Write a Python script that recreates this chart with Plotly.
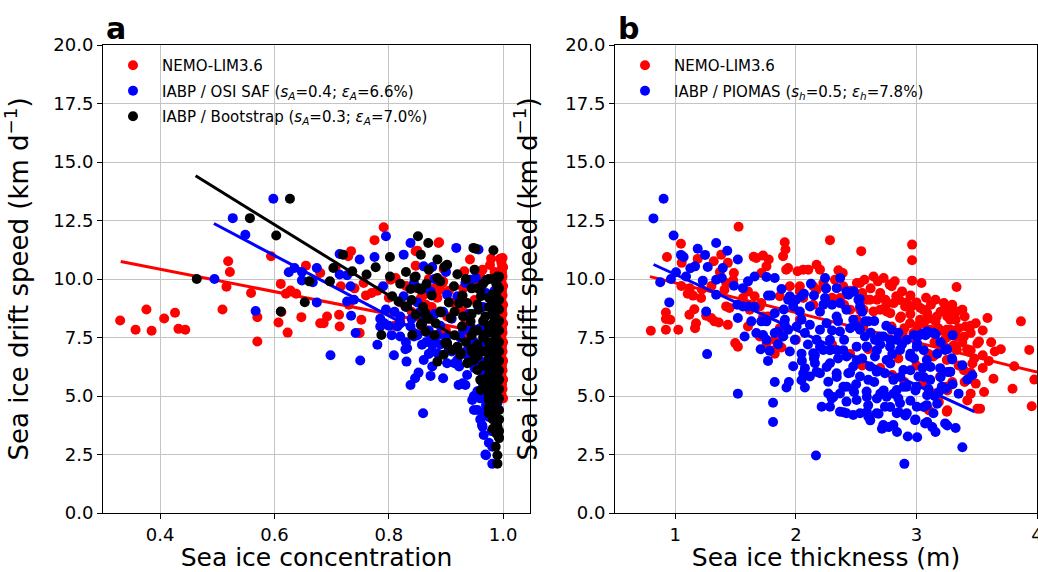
import plotly.graph_objects as go

# ---------------- data: panel a (speed vs concentration) ----------------
nemo_a = [
    (0.330, 8.23), (0.357, 7.83), (0.376, 8.70), (0.385, 7.79), (0.407, 8.31), (0.426, 8.56), (0.432, 7.87), (0.444, 7.83),
    (0.519, 10.76), (0.522, 10.30), (0.516, 9.67), (0.509, 8.70), (0.559, 9.40), (0.570, 8.37), (0.570, 7.33), (0.594, 10.97),
    (0.611, 9.79), (0.607, 8.14), (0.612, 8.59), (0.623, 7.71), (0.620, 9.37), (0.628, 9.51), (0.638, 9.37), (0.647, 8.37),
    (0.655, 10.57), (0.680, 8.11),
    (0.791, 12.21), (0.775, 11.66), (0.734, 11.19), (0.729, 10.97), (0.847, 11.19), (0.887, 11.54), (0.942, 10.83), (0.979, 10.87),
    (0.995, 10.87), (0.998, 10.51), (0.803, 9.97), (0.812, 10.04), (0.680, 10.26), (0.716, 9.69), (0.756, 9.83), (0.770, 9.40),
    (0.713, 8.47), (0.692, 8.40), (0.686, 8.11), (0.714, 7.97), (0.752, 8.26), (0.749, 7.69), (0.890, 9.54), (0.902, 8.40),
    (0.920, 8.83), (0.870, 7.69), (0.890, 7.69), (0.748, 7.69),
    (0.707, 10.49), (0.740, 9.60), (0.760, 9.30), (0.780, 9.50), (0.800, 9.20), (0.820, 9.00), (0.730, 8.90),
    (0.870, 10.00), (0.880, 9.60), (0.885, 9.20), (0.895, 9.90), (0.905, 9.50), (0.910, 9.00), (0.875, 8.80), (0.860, 9.30),
    (0.865, 8.90), (0.850, 9.60), (0.930, 9.60), (0.930, 8.60), (0.950, 9.90), (0.950, 9.10), (0.960, 10.10), (0.840, 8.60),
    (0.830, 9.70), (0.820, 8.20), (0.810, 8.00), (0.860, 7.90), (0.880, 7.40), (0.900, 7.80), (0.930, 8.00), (0.940, 7.50),
    (0.888, 11.57), (0.847, 10.57), (0.850, 11.21), (0.896, 10.43), (0.932, 10.33), (0.856, 9.19), (0.885, 9.54), (0.894, 9.83),
    (0.977, 10.60), (0.985, 10.30), (0.964, 10.40),
    (0.999, 10.9), (0.997, 10.7), (1.000, 10.5), (0.998, 10.3), (0.999, 10.1), (0.997, 9.9), (1.000, 9.7), (0.998, 9.5),
    (0.999, 9.3), (0.997, 9.1), (1.000, 8.9), (0.998, 8.7), (0.999, 8.5), (0.997, 8.3), (1.000, 8.1), (0.998, 7.9),
    (0.999, 7.7), (0.997, 7.5), (1.000, 7.3), (0.998, 7.1), (0.999, 6.9), (0.997, 6.7), (1.000, 6.5), (0.998, 6.3),
    (0.999, 6.1), (0.997, 5.9), (1.000, 5.7), (0.998, 5.5), (0.999, 5.3), (0.997, 5.1), (1.000, 4.9),
]

osisaf_a = [
    (0.598, 13.43), (0.527, 12.60), (0.549, 11.89), (0.495, 10.00), (0.567, 8.63), (0.625, 10.29), (0.635, 10.47), (0.674, 10.47),
    (0.648, 9.94), (0.667, 9.86), (0.674, 9.00),
    (0.795, 11.83), (0.714, 11.07), (0.749, 10.83), (0.775, 10.94), (0.838, 11.54), (0.861, 10.54), (0.876, 10.51), (0.918, 11.33),
    (0.957, 11.26), (0.648, 10.30), (0.714, 10.19), (0.727, 10.16), (0.790, 9.69), (0.733, 9.69), (0.739, 9.11), (0.727, 9.04),
    (0.734, 8.43), (0.780, 7.19), (0.826, 9.26), (0.844, 9.83), (0.873, 9.47), (0.902, 9.33), (0.920, 9.26), (0.934, 9.83),
    (0.943, 9.97), (0.952, 10.04), (0.820, 8.40), (0.815, 7.97), (0.792, 8.11), (0.785, 7.97), (0.820, 7.54), (0.838, 7.97),
    (0.844, 7.54), (0.832, 7.04), (0.876, 7.19), (0.885, 6.83), (0.858, 7.19), (0.698, 6.74), (0.750, 6.52), (0.809, 6.74),
    (0.742, 7.69), (0.831, 6.47), (0.829, 7.00), (0.852, 6.00), (0.838, 5.47), (0.846, 5.76), (0.860, 4.26), (0.873, 5.86),
    (0.895, 5.76), (0.861, 6.54), (0.876, 6.26), (0.902, 6.40), (0.920, 6.54), (0.922, 5.47), (0.934, 5.47), (0.937, 5.90),
    (0.949, 5.00), (0.949, 4.40), (0.963, 3.76), (0.966, 3.33), (0.969, 2.50), (0.981, 2.10), (0.981, 2.83),
    (0.860, 8.20), (0.870, 7.80), (0.880, 8.50), (0.890, 8.00), (0.900, 7.50), (0.910, 8.30), (0.920, 7.00), (0.930, 7.80),
    (0.940, 8.50), (0.950, 7.30), (0.955, 6.80), (0.960, 7.90), (0.965, 8.80), (0.970, 9.40), (0.975, 6.20), (0.965, 5.50),
    (0.960, 4.90), (0.970, 4.60), (0.975, 4.10), (0.980, 3.50), (0.985, 5.20), (0.990, 4.70), (0.990, 3.90), (0.950, 6.20),
    (0.940, 6.60), (0.910, 6.90), (0.890, 7.20), (0.870, 6.80), (0.800, 8.00), (0.810, 8.60), (0.805, 7.60), (0.785, 8.30),
    (0.795, 8.70), (0.830, 8.80), (0.850, 9.00), (0.860, 9.60), (0.880, 10.00), (0.900, 10.30), (0.990, 10.00), (0.985, 9.50),
    (0.970, 9.95), (0.975, 5.80), (0.965, 6.00), (0.955, 5.20),
    (0.970, 2.47), (0.964, 3.69), (0.955, 4.40), (0.946, 4.83), (0.826, 11.04), (0.923, 6.26), (0.929, 5.54),
    (0.820, 8.10), (0.830, 7.30), (0.840, 8.30), (0.850, 7.60), (0.855, 8.60), (0.865, 7.30), (0.875, 6.90), (0.885, 7.60),
    (0.895, 8.60), (0.905, 7.00), (0.915, 6.40), (0.925, 7.50), (0.935, 6.90), (0.945, 7.90), (0.960, 6.50), (0.970, 7.20),
    (0.970, 5.20), (0.965, 4.30), (0.975, 3.00), (0.960, 4.00),
]

bootstrap_a = [
    (0.627, 13.43), (0.557, 12.60), (0.603, 11.86), (0.464, 10.00), (0.661, 9.90), (0.653, 9.01), (0.611, 8.61),
    (0.802, 10.94), (0.851, 11.83), (0.869, 11.54), (0.885, 10.83), (0.897, 10.51), (0.902, 10.61), (0.948, 11.33), (0.983, 11.23),
    (0.720, 11.04), (0.703, 10.47), (0.736, 10.33), (0.761, 10.19), (0.777, 10.50), (0.802, 10.11), (0.697, 9.90), (0.787, 7.61),
    (0.806, 9.26), (0.817, 9.04), (0.832, 8.83), (0.847, 10.11), (0.852, 9.61), (0.866, 9.80), (0.885, 10.04), (0.914, 9.69),
    (0.960, 9.54), (0.972, 9.97), (0.990, 10.11), (0.981, 9.33), (0.990, 9.69), (0.864, 8.54), (0.858, 8.11), (0.847, 8.47),
    (0.882, 8.11), (0.890, 8.61), (0.928, 9.26), (0.937, 8.97), (0.943, 8.19), (0.928, 7.97), (0.957, 8.69), (0.969, 8.40),
    (0.984, 8.40), (0.972, 7.69), (0.987, 7.54), (0.920, 7.11), (0.902, 7.19), (0.896, 6.76),
    (0.841, 7.61), (0.864, 7.76), (0.902, 7.26), (0.885, 6.47), (0.911, 6.97), (0.925, 6.76), (0.937, 6.40), (0.949, 6.54),
    (0.955, 6.11), (0.960, 5.69), (0.969, 5.54), (0.975, 4.83), (0.975, 4.26), (0.990, 4.83), (0.990, 3.69), (0.992, 3.26),
    (0.987, 2.83), (0.990, 2.47), (0.990, 2.11),
    (0.856, 11.04), (0.952, 11.29), (0.845, 10.07), (0.838, 9.57), (0.856, 9.54), (0.929, 9.29), (0.955, 9.61), (0.961, 9.26),
    (0.975, 10.00), (0.829, 8.83), (0.856, 8.04), (0.891, 8.57), (0.908, 8.33), (0.923, 8.97), (0.899, 7.26), (0.926, 6.83),
    (0.940, 6.43), (0.961, 5.26),
    (0.870, 10.40), (0.875, 9.30), (0.890, 9.90), (0.905, 9.00), (0.915, 8.60), (0.920, 10.20), (0.935, 10.00), (0.945, 9.60),
    (0.950, 10.40), (0.820, 9.80), (0.830, 10.30), (0.840, 9.10), (0.860, 8.80), (0.870, 8.30), (0.880, 7.60), (0.915, 7.60),
    (0.935, 7.30), (0.945, 6.90), (0.950, 7.80), (0.930, 8.40),
    (0.975, 9.2), (0.975, 8.8), (0.975, 8.0), (0.975, 7.3), (0.975, 7.0), (0.975, 6.6), (0.975, 6.2), (0.975, 5.9),
    (0.975, 5.3), (0.975, 5.0), (0.975, 4.5),
    (0.982, 10.0), (0.982, 9.0), (0.982, 8.6), (0.982, 8.1), (0.982, 7.7), (0.982, 7.2), (0.982, 6.8), (0.982, 6.4),
    (0.982, 6.0), (0.982, 5.6), (0.982, 5.2), (0.982, 4.7), (0.982, 4.3), (0.982, 4.0), (0.982, 3.6),
    (0.988, 9.8), (0.988, 9.4), (0.988, 8.9), (0.988, 8.3), (0.988, 7.9), (0.988, 7.4), (0.988, 7.0), (0.988, 6.6),
    (0.988, 6.2), (0.988, 5.8), (0.988, 5.4), (0.988, 5.0), (0.988, 4.5), (0.988, 4.1), (0.988, 3.8), (0.988, 3.4),
    (0.993, 10.1), (0.993, 9.6), (0.993, 9.1), (0.993, 8.7), (0.993, 8.2), (0.993, 7.8), (0.993, 7.3), (0.993, 6.9),
    (0.993, 6.5), (0.993, 6.1), (0.993, 5.7), (0.993, 5.3), (0.993, 4.9), (0.993, 4.4), (0.993, 4.0), (0.993, 3.5), (0.993, 3.2),
    (0.965, 9.8), (0.965, 8.2), (0.965, 7.5), (0.965, 6.9), (0.965, 6.3), (0.965, 5.7),
    (0.955, 8.9), (0.955, 7.8), (0.955, 7.2), (0.955, 6.7), (0.945, 8.5), (0.945, 7.6), (0.945, 7.0),
]

# ---------------- data: panel b (speed vs thickness) ----------------
nemo_b = [
    (0.797, 7.79), (0.922, 7.83), (1.025, 7.83), (1.164, 7.90), (0.922, 8.29), (0.958, 8.26), (0.922, 8.57), (0.931, 10.94),
    (1.047, 11.51), (1.053, 10.69), (1.117, 8.47), (1.158, 8.71), (1.172, 8.11), (1.103, 9.37), (1.147, 9.29), (1.214, 9.19),
    (1.186, 10.86), (1.319, 10.76), (1.381, 11.04), (1.422, 9.83), (1.436, 10.69), (1.486, 10.26), (1.408, 9.54), (1.422, 8.83),
    (1.450, 8.76), (1.297, 8.33), (1.325, 8.19), (1.361, 8.14), (1.436, 8.04), (1.256, 8.43), (1.497, 7.26), (1.519, 7.11),
    (1.525, 12.23), (1.672, 10.90), (1.728, 11.00), (1.775, 10.83), (1.756, 10.54), (1.714, 10.26), (1.908, 11.57), (1.914, 11.26),
    (1.894, 10.97), (1.936, 10.47), (2.014, 10.33), (1.658, 9.26), (1.603, 9.47), (1.561, 9.19), (1.714, 8.97), (1.867, 9.26),
    (1.950, 9.69), (1.617, 8.69), (1.769, 8.40), (1.603, 7.97), (1.758, 7.26), (1.825, 7.40), (1.881, 7.54), (1.825, 6.81),
    (1.881, 7.07),
    (2.283, 11.66), (2.542, 11.19), (2.964, 11.47), (2.964, 10.80), (2.964, 9.93), (3.042, 9.83), (3.333, 9.66), (2.061, 10.40),
    (2.103, 10.40), (2.172, 10.61), (2.200, 10.40), (2.353, 10.37), (2.389, 10.26), (2.506, 9.83), (2.569, 9.97), (2.644, 10.11),
    (2.728, 10.04), (2.778, 9.76), (2.833, 9.26), (2.881, 9.47), (2.811, 8.97), (2.672, 9.11), (2.589, 9.11), (2.742, 9.11),
    (2.644, 8.61), (2.700, 8.69), (2.783, 8.54), (2.872, 8.40), (2.906, 8.83), (3.033, 8.76), (3.089, 8.54), (3.158, 9.11),
    (3.228, 8.97), (3.297, 8.90), (3.381, 8.69), (3.256, 8.40), (3.325, 8.26), (3.589, 8.33), (3.492, 8.11), (3.408, 7.97),
    (3.867, 8.19), (3.158, 8.19), (3.061, 8.11), (3.006, 7.97), (3.283, 7.83), (3.450, 7.69), (3.519, 7.33), (3.242, 7.47),
    (2.886, 7.69), (2.794, 7.97), (2.367, 9.19), (2.450, 8.69), (2.561, 8.69), (2.033, 9.69), (2.144, 9.69), (2.228, 9.83),
    (3.936, 6.97),
    (2.532, 9.83), (2.795, 9.69), (2.615, 9.11), (2.753, 8.61), (2.961, 8.83), (3.058, 8.69), (3.169, 8.40), (3.280, 8.26),
    (3.335, 8.61), (2.864, 8.33), (2.947, 8.11), (3.030, 8.26), (2.975, 7.69), (3.114, 7.83), (3.252, 7.83), (3.335, 7.54),
    (3.183, 7.26), (3.141, 6.69), (3.252, 6.54), (3.335, 6.97), (3.197, 5.83), (3.252, 5.40), (3.141, 5.11), (3.252, 4.33),
    (2.532, 8.69), (2.504, 8.26), (2.559, 7.97), (2.393, 9.69), (2.324, 9.97), (2.033, 9.47), (2.172, 9.54), (2.144, 8.90),
    (1.701, 8.83), (1.729, 8.40), (1.701, 7.54), (1.825, 6.97), (1.867, 7.90), (2.061, 9.19), (2.033, 8.26), (2.000, 7.40),
    (3.978, 5.70), (3.956, 4.56), (3.797, 5.31), (3.639, 5.74), (3.811, 6.27), (3.561, 5.17), (3.506, 4.46), (3.528, 4.46),
    (3.492, 5.53), (3.450, 5.10), (3.422, 4.81), (3.394, 6.10), (3.464, 6.39), (3.550, 6.74), (3.433, 6.89), (3.506, 7.24),
    (3.394, 7.53), (3.256, 7.53), (3.311, 7.17), (3.256, 4.39), (3.103, 4.39), (3.297, 5.60), (3.256, 5.24), (3.186, 4.74),
    (3.450, 6.96),
    (2.300, 7.20), (2.450, 6.80), (2.550, 6.30), (2.600, 7.00), (2.700, 6.20), (2.800, 5.90), (2.850, 6.60), (2.900, 5.60),
    (3.000, 6.30), (3.050, 5.50), (3.100, 6.80), (3.150, 7.30), (3.200, 7.80), (3.300, 7.10), (3.350, 6.30), (3.400, 5.60),
    (3.450, 6.00),
    (1.370, 10.30), (1.480, 9.95), (1.300, 9.70), (1.220, 9.55), (1.120, 9.60), (1.050, 9.70), (1.650, 10.95), (1.920, 10.40),
    (2.250, 9.60), (2.300, 9.20), (2.400, 8.90), (2.450, 9.50), (2.550, 9.40), (2.620, 9.60), (2.680, 9.90), (2.700, 9.40),
    (2.750, 8.90), (2.820, 9.90), (2.860, 9.10), (2.920, 9.00), (2.950, 9.30), (3.000, 9.00), (3.080, 9.20), (3.120, 8.90),
    (3.200, 8.60), (3.250, 8.70), (3.400, 8.40), (3.450, 8.00), (3.550, 7.80), (3.620, 7.30), (3.700, 7.00), (3.350, 7.90),
    (3.300, 8.50), (2.900, 7.90), (2.950, 8.50), (3.100, 8.30), (3.180, 7.90), (3.230, 7.10), (3.380, 7.30), (3.420, 7.00),
    (3.480, 6.60), (3.550, 6.20), (3.600, 6.50), (3.650, 6.90),
]

piomas_b = [
    (0.903, 13.43), (0.819, 12.59), (0.986, 11.86), (1.047, 11.03), (1.069, 10.94), (1.006, 10.29), (0.964, 10.00), (0.875, 9.86),
    (0.950, 9.00), (1.089, 10.11), (1.125, 10.46), (1.164, 10.54), (1.186, 11.29), (1.247, 11.03), (1.269, 10.51), (1.228, 9.93),
    (1.339, 11.54), (1.394, 10.47), (1.431, 11.21), (1.339, 9.97), (1.386, 10.04), (1.339, 9.33), (1.519, 10.83), (1.486, 9.71),
    (1.561, 9.61), (1.603, 9.90), (1.658, 10.11), (1.756, 10.09), (1.825, 10.04), (1.881, 9.57), (1.769, 9.29), (1.792, 9.29),
    (1.514, 8.90), (1.561, 8.83), (1.603, 8.83), (1.658, 8.80), (1.256, 8.61), (1.519, 8.33), (1.631, 8.19), (1.714, 8.19),
    (1.825, 8.54), (1.936, 9.11), (1.978, 8.83), (1.908, 8.04), (1.825, 7.69), (1.672, 7.69), (1.575, 7.54), (1.728, 7.61),
    (1.936, 7.83), (2.047, 8.26), (2.047, 9.26),
    (1.264, 6.79), (1.519, 5.10), (1.708, 7.00), (1.769, 6.50), (1.783, 6.93), (1.853, 7.21), (1.825, 5.60), (1.811, 4.71),
    (1.811, 3.89), (1.922, 5.36), (1.942, 5.60), (1.978, 6.27), (2.047, 5.67), (2.047, 6.81), (2.075, 5.36),
    (2.242, 10.04), (2.367, 10.04), (2.339, 9.61), (2.125, 9.80), (2.067, 9.37), (2.436, 9.33), (2.478, 9.47), (2.519, 9.11),
    (2.533, 8.83), (2.242, 9.19), (2.228, 8.90), (2.575, 8.19), (2.117, 8.83), (1.950, 9.26),
    (2.420, 9.47), (2.033, 8.61), (1.909, 8.26), (1.756, 8.19), (1.853, 7.76), (1.756, 7.40),
    (2.116, 5.83), (2.075, 6.19), (2.144, 6.83), (2.172, 7.40), (2.255, 8.11), (2.116, 8.04), (2.006, 7.97), (2.338, 8.40),
    (2.420, 8.69), (2.366, 7.76), (2.283, 7.40), (2.227, 6.97), (2.283, 6.40), (2.338, 5.97), (2.269, 5.61), (2.269, 5.11),
    (2.297, 4.90), (2.214, 4.54), (2.283, 4.54), (2.366, 4.33), (2.420, 4.26), (2.476, 4.19), (2.420, 4.76), (2.504, 4.83),
    (2.476, 5.26), (2.587, 5.19), (2.601, 5.69), (2.435, 5.97), (2.421, 6.69), (2.504, 7.11), (2.532, 7.83), (2.601, 8.19),
    (2.573, 7.54), (2.656, 7.40), (2.726, 7.54), (2.795, 7.83), (2.837, 7.40), (2.656, 6.69), (2.753, 6.54), (2.739, 5.97),
    (2.670, 6.04), (2.809, 5.69), (2.892, 6.11), (2.947, 6.69), (2.920, 7.40), (3.003, 7.11), (3.030, 7.61), (3.086, 7.76),
    (3.141, 7.69), (3.238, 6.97), (3.294, 6.61), (3.280, 6.04), (3.197, 6.19), (3.086, 6.54), (3.017, 5.83), (3.114, 5.69),
    (3.211, 5.40), (3.003, 5.40), (2.920, 5.40), (2.837, 5.26), (2.753, 4.97), (2.739, 4.54), (2.864, 4.69), (2.670, 4.26),
    (2.601, 4.11), (2.532, 4.26), (2.837, 4.26), (2.920, 4.26), (3.003, 4.54), (3.086, 4.61), (3.141, 4.26), (3.238, 3.83),
    (2.725, 3.76), (2.809, 3.76), (2.989, 3.97), (3.072, 3.83), (2.698, 7.54), (2.781, 7.11), (2.864, 6.97), (2.587, 7.11),
    (2.615, 6.26), (2.532, 5.83), (2.420, 5.40), (2.366, 5.11), (2.338, 6.97), (2.476, 6.26), (2.200, 5.97), (2.158, 6.40),
    (2.200, 7.83), (2.366, 8.97), (2.476, 8.26), (1.992, 7.40), (2.075, 7.69), (1.895, 7.54),
    (2.167, 2.46), (2.900, 2.10), (3.381, 2.81), (3.325, 3.63), (3.256, 3.74), (3.158, 3.46), (3.131, 3.67), (3.089, 3.89),
    (3.006, 3.24), (2.928, 3.27), (2.839, 3.46), (2.769, 3.67), (2.714, 3.60), (2.992, 4.00), (2.908, 4.17), (2.853, 4.31),
    (2.783, 4.53), (2.686, 4.24), (2.617, 3.96), (2.589, 4.31), (2.394, 4.31), (2.311, 4.96), (2.061, 5.96),
    (3.061, 4.53), (3.172, 4.67), (3.244, 5.31), (3.256, 6.03), (3.297, 6.56), (3.381, 6.31), (3.422, 5.70), (3.464, 5.89),
    (3.186, 5.17), (3.089, 5.03), (2.992, 5.24), (2.894, 5.39), (2.811, 5.10), (2.728, 5.24), (2.672, 4.89), (2.589, 4.96),
    (2.483, 5.17), (2.394, 5.39), (2.339, 5.81), (2.256, 6.24), (2.172, 6.03), (2.158, 6.74), (2.283, 6.96), (2.394, 6.96),
    (2.506, 6.53), (2.589, 7.10), (2.672, 6.96), (2.783, 6.39), (2.867, 5.81), (2.950, 6.10), (3.061, 5.81), (3.117, 6.24),
    (2.950, 6.81), (3.061, 6.96), (3.172, 6.81), (3.075, 7.60), (3.158, 7.64), (3.006, 7.24), (2.783, 7.39),
    (3.280, 6.03), (3.255, 7.00), (3.100, 7.72), (3.050, 7.67), (2.480, 9.47), (2.530, 9.15),
    (2.200, 8.60), (2.300, 8.90), (2.350, 8.20), (2.450, 7.90), (2.400, 7.40), (2.300, 7.80), (2.200, 7.10), (2.350, 6.60),
    (2.450, 6.00), (2.550, 6.60), (2.500, 5.50), (2.650, 5.60), (2.700, 5.10), (2.600, 4.60), (2.850, 4.90), (2.950, 4.80),
    (3.100, 5.30), (3.150, 5.00), (3.200, 5.80), (3.300, 5.50), (3.350, 5.10), (3.050, 6.20), (2.980, 6.60), (2.880, 7.20),
    (2.800, 6.80), (2.700, 7.20), (2.620, 7.70), (2.500, 8.00), (2.550, 8.60), (2.650, 8.20), (2.750, 8.00), (2.850, 7.70),
    (2.980, 7.60), (3.200, 7.30), (3.300, 7.60), (2.100, 7.20), (2.150, 6.60), (2.050, 6.50), (1.950, 6.90), (1.900, 8.70),
    (2.000, 9.10), (2.150, 9.30), (2.250, 9.60),
]

# regression lines (end points)
fit_a_nemo_x, fit_a_nemo_y = [0.331, 1.000], [10.75, 7.54]
fit_a_osi_x, fit_a_osi_y = [0.494, 0.998], [12.37, 5.87]
fit_a_bs_x, fit_a_bs_y = [0.462, 0.995], [14.41, 6.36]
fit_b_nemo_x, fit_b_nemo_y = [0.79, 4.00], [10.10, 6.02]
fit_b_pio_x, fit_b_pio_y = [0.82, 3.48], [10.62, 4.33]

lab_nemo = "NEMO-LIM3.6"
lab_osi = "IABP / OSI SAF (<i>s</i><sub><i>A</i></sub>=0.4; <i>ε</i><sub><i>A</i></sub>=6.6%)"
lab_bs = "IABP / Bootstrap (<i>s</i><sub><i>A</i></sub>=0.3; <i>ε</i><sub><i>A</i></sub>=7.0%)"
lab_pio = "IABP / PIOMAS (<i>s</i><sub><i>h</i></sub>=0.5; <i>ε</i><sub><i>h</i></sub>=7.8%)"

RED, BLUE, BLACK = "#ff0000", "#0000ff", "#000000"
FONT = "DejaVu Sans"
MS = 10


def xs(p):
    return [a for a, _ in p]


def ys(p):
    return [b for _, b in p]


fig = go.Figure()


def scat(pts, color, name, xa, ya, leg, grp):
    fig.add_trace(go.Scatter(x=xs(pts), y=ys(pts), mode="markers", name=name,
                             marker=dict(color=color, size=MS, line=dict(width=0)),
                             xaxis=xa, yaxis=ya, legend=leg, legendgroup=grp))


def line(x, y, color, xa, ya):
    fig.add_trace(go.Scatter(x=x, y=y, mode="lines", line=dict(color=color, width=3),
                             showlegend=False, xaxis=xa, yaxis=ya, hoverinfo="skip"))


scat(nemo_a, RED, lab_nemo, "x", "y", "legend", "a1")
line(fit_a_nemo_x, fit_a_nemo_y, RED, "x", "y")
scat(osisaf_a, BLUE, lab_osi, "x", "y", "legend", "a2")
line(fit_a_osi_x, fit_a_osi_y, BLUE, "x", "y")
scat(bootstrap_a, BLACK, lab_bs, "x", "y", "legend", "a3")
line(fit_a_bs_x, fit_a_bs_y, BLACK, "x", "y")

scat(nemo_b, RED, lab_nemo, "x2", "y2", "legend2", "b1")
line(fit_b_nemo_x, fit_b_nemo_y, RED, "x2", "y2")
scat(piomas_b, BLUE, lab_pio, "x2", "y2", "legend2", "b2")
line(fit_b_pio_x, fit_b_pio_y, BLUE, "x2", "y2")

# full-window figure; the page margin is removed after plotting
W, H = 1038, 572


def fx(px):
    return px / W


def fy(py):
    return 1 - py / H


dom_a = [fx(103), fx(530)]
dom_b = [fx(615), fx(1037)]
dom_y = [fy(513), fy(45)]

axis_common = dict(showline=True, linecolor="black", linewidth=1, mirror=True,
                   ticks="outside", ticklen=5, tickwidth=1, tickcolor="black",
                   showgrid=True, gridcolor="#c4c4c4", gridwidth=1, zeroline=False,
                   tickfont=dict(family=FONT, size=18, color="black"), automargin=False)
xtitle_font = dict(family=FONT, size=25, color="black")
ytitle_font = dict(family=FONT, size=26, color="black")

ytitle = "Sea ice drift speed (km d<sup>−1</sup>)"
yticks = [0, 2.5, 5, 7.5, 10, 12.5, 15, 17.5, 20]

fig.update_layout(
    width=W, height=H, margin=dict(l=0, r=0, t=0, b=0),
    paper_bgcolor="white", plot_bgcolor="white",
    font=dict(family=FONT, color="black"),
    xaxis=dict(domain=dom_a, range=[0.30, 1.047], tickvals=[0.4, 0.6, 0.8, 1.0], tickformat=".1f",
               title=dict(text="Sea ice concentration", font=xtitle_font, standoff=15), anchor="y", **axis_common),
    yaxis=dict(domain=dom_y, range=[0, 20], tickvals=yticks, tickformat=".1f",
               title=dict(text=ytitle, font=ytitle_font, standoff=22), anchor="x", **axis_common),
    xaxis2=dict(domain=dom_b, range=[0.5, 4.0], tickvals=[1, 2, 3, 4], ticklabeloverflow="allow",
                title=dict(text="Sea ice thickness (m)", font=xtitle_font, standoff=15), anchor="y2", **axis_common),
    yaxis2=dict(domain=dom_y, range=[0, 20], tickvals=yticks, tickformat=".1f",
                title=dict(text=ytitle, font=ytitle_font, standoff=20), anchor="x2", **axis_common),
    legend=dict(x=fx(104), y=fy(49), xanchor="left", yanchor="top", bgcolor="rgba(0,0,0,0)",
                font=dict(family=FONT, size=15, color="black"), tracegroupgap=3, traceorder="grouped",
                itemwidth=48),
    legend2=dict(x=fx(616), y=fy(49), xanchor="left", yanchor="top", bgcolor="rgba(0,0,0,0)",
                 font=dict(family=FONT, size=15, color="black"), tracegroupgap=3, traceorder="grouped",
                 itemwidth=48),
    showlegend=True,
    annotations=[
        dict(text="<b>a</b>", x=fx(104), y=fy(28), xref="paper", yref="paper", xanchor="left",
             yanchor="middle", showarrow=False, font=dict(family=FONT, size=30, color="black")),
        dict(text="<b>b</b>", x=fx(616), y=fy(28), xref="paper", yref="paper", xanchor="left",
             yanchor="middle", showarrow=False, font=dict(family=FONT, size=30, color="black")),
    ],
)

fig.write_html("out.html", config={"displayModeBar": False},
               post_script="document.body.style.margin='0';document.body.style.overflow='hidden';")
